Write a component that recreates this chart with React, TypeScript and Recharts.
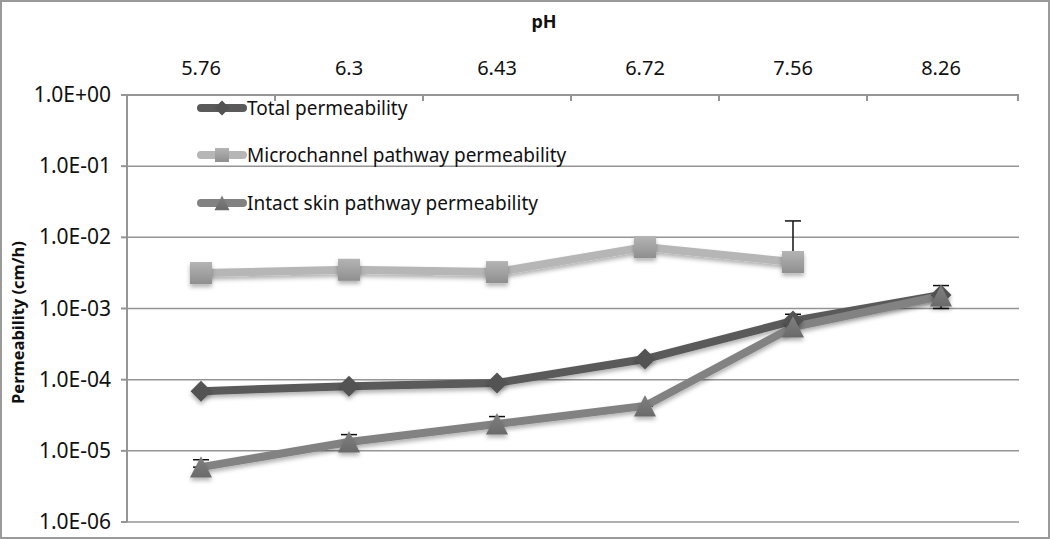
import { LineChart, Line, XAxis, YAxis, CartesianGrid, Legend, ErrorBar } from "recharts";

const phLabels = ["5.76", "6.3", "6.43", "6.72", "7.56", "8.26"];
const totalPerm = [6.9e-5, 8.1e-5, 9.0e-5, 1.95e-4, 6.7e-4, 1.55e-3];
const microPerm = [3.15e-3, 3.5e-3, 3.25e-3, 7.3e-3, 4.5e-3, null];
const intactPerm = [5.9e-6, 1.33e-5, 2.38e-5, 4.27e-5, 5.5e-4, 1.5e-3];
const totalErr = [[0, 0], [0, 0], [0, 0], [0, 0], [0, 1.6e-4], [0, 0]];
const microErr = [[0, 0], [0, 0], [0, 0], [0, 0], [0, 0.0125], null];
const intactErr = [[0, 1.6e-6], [0, 3.6e-6], [0, 6.5e-6], [0, 0], [0, 0], [5e-4, 6e-4]];
const yTicks = [1, 0.1, 0.01, 0.001, 1e-4, 1e-5, 1e-6];

const seriesNames = ["Total permeability", "Microchannel pathway permeability", "Intact skin pathway permeability"];

const data = phLabels.map((ph, i) => ({
  ph,
  total: totalPerm[i],
  micro: microPerm[i],
  intact: intactPerm[i],
  totalErr: totalErr[i],
  microErr: microErr[i],
  intactErr: intactErr[i],
}));

const AXIS_Y = 95;
const BAND = 148;
const GRID = "#959595";

const fmtExp = (v: number) => {
  const e = Math.round(Math.log10(v));
  return `1.0E${e < 0 ? "-" : "+"}${String(Math.abs(e)).padStart(2, "0")}`;
};

const Diamond = ({ cx, cy, r }: any) => (
  <path d={`M${cx},${cy - r}L${cx + r},${cy}L${cx},${cy + r}L${cx - r},${cy}Z`} fill="#535353" />
);
const Square = ({ cx, cy, r }: any) => (
  <rect x={cx - r} y={cy - r} width={r * 2} height={r * 2} fill="url(#sqGrad)" />
);
const Triangle = ({ cx, cy, r }: any) => (
  <path d={`M${cx},${cy - r}L${cx + r},${cy + r * 0.95}L${cx - r},${cy + r * 0.95}Z`} fill="url(#triGrad)" />
);

const markers = [Diamond, Square, Triangle];
const lineColors = ["#5a5a5a", "#b6b6b6", "#828282"];

const makeDot = (Shape: any, r: number) => (props: any) => {
  const { cx, cy, index } = props;
  if (cx == null || cy == null || isNaN(cy)) return <g key={`d${index}`} />;
  return (
    <g key={`d${index}`} filter="url(#shadow)">
      <Shape cx={cx} cy={cy} r={r} />
    </g>
  );
};

const TopTick = (props: any) => {
  const { x, y, payload, index, visibleTicksCount } = props;
  return (
    <g>
      <text x={x} y={y} textAnchor="middle" fontSize={20} fill="#111">
        {payload.value}
      </text>
      <line x1={x - BAND / 2} x2={x - BAND / 2} y1={AXIS_Y} y2={AXIS_Y + 6} stroke={GRID} strokeWidth={2} />
      {index === visibleTicksCount - 1 && (
        <line x1={x + BAND / 2 + 3} x2={x + BAND / 2 + 3} y1={AXIS_Y} y2={AXIS_Y + 6} stroke={GRID} strokeWidth={2} />
      )}
    </g>
  );
};

const LeftTick = (props: any) => {
  const { x, y, payload } = props;
  return (
    <text x={x} y={y} dy={7} textAnchor="end" fontSize={21} fill="#111">
      {fmtExp(payload.value)}
    </text>
  );
};

const renderLegend = () => (
  <div>
    {seriesNames.map((name, i) => {
      const Shape = markers[i];
      return (
        <div key={name} style={{ display: "flex", alignItems: "center", height: 47.5 }}>
          <svg width={54} height={24} style={{ display: "block" }}>
            <line x1={6} x2={48} y1={12} y2={12} stroke={lineColors[i]} strokeWidth={8} strokeLinecap="round" />
            <Shape cx={27} cy={12} r={i === 1 ? 7 : 7.5} />
          </svg>
          <span style={{ fontSize: 19, color: "#111", marginLeft: -2 }}>{name}</span>
        </div>
      );
    })}
  </div>
);

export default function App() {
  return (
    <div
      style={{
        position: "absolute",
        left: 0,
        top: 0,
        width: 1050,
        height: 539,
        background: "#fff",
        fontFamily: "'Noto Sans', sans-serif",
      }}
    >
      <LineChart width={1050} height={539} data={data} margin={{ top: 0, right: 31, bottom: 17, left: 0 }}>
        <defs>
          <linearGradient id="sqGrad" x1="0" y1="0" x2="0" y2="1">
            <stop offset="0%" stopColor="#b4b4b4" />
            <stop offset="100%" stopColor="#8f8f8f" />
          </linearGradient>
          <linearGradient id="triGrad" x1="0" y1="0" x2="0" y2="1">
            <stop offset="0%" stopColor="#808080" />
            <stop offset="100%" stopColor="#6a6a6a" />
          </linearGradient>
          <filter id="shadow" x="-30%" y="-30%" width="160%" height="180%">
            <feDropShadow dx="0" dy="3" stdDeviation="2" floodColor="#000" floodOpacity="0.3" />
          </filter>
        </defs>
        <CartesianGrid vertical={false} stroke={GRID} strokeWidth={1.5} />
        <XAxis
          dataKey="ph"
          orientation="top"
          height={95}
          padding={{ left: 74, right: 78 }}
          axisLine={{ stroke: GRID, strokeWidth: 2 }}
          tickLine={false}
          tickSize={0}
          tickMargin={20}
          tick={<TopTick />}
          label={{ value: "pH", position: "insideTop", offset: 15, dx: -29, fontSize: 18, fontWeight: "bold", fill: "#111" }}
        />
        <YAxis
          type="number"
          scale="log"
          domain={[1e-6, 1]}
          ticks={yTicks}
          allowDataOverflow
          width={127}
          axisLine={{ stroke: GRID, strokeWidth: 2 }}
          tickLine={{ stroke: GRID, strokeWidth: 2 }}
          tickSize={6}
          tickMargin={10}
          tick={<LeftTick />}
          label={{
            value: "Permeability (cm/h)",
            angle: -90,
            position: "insideLeft",
            offset: 18,
            dy: 14,
            fontSize: 16.5,
            fontWeight: "bold",
            fill: "#111",
            style: { textAnchor: "middle" },
          }}
        />
        <Legend
          layout="vertical"
          align="center"
          verticalAlign="middle"
          content={renderLegend}
          wrapperStyle={{ left: 195, top: 84, width: 500 }}
        />
        <Line
          dataKey="total"
          name={seriesNames[0]}
          stroke={lineColors[0]}
          strokeWidth={8}
          dot={makeDot(Diamond, 10.5)}
          activeDot={false}
          filter="url(#shadow)"
          isAnimationActive={false}
        >
          <ErrorBar dataKey="totalErr" width={8} stroke="#111" strokeWidth={1.5} />
        </Line>
        <Line
          dataKey="micro"
          name={seriesNames[1]}
          stroke={lineColors[1]}
          strokeWidth={8}
          dot={makeDot(Square, 11)}
          activeDot={false}
          filter="url(#shadow)"
          isAnimationActive={false}
        >
          <ErrorBar dataKey="microErr" width={8} stroke="#111" strokeWidth={1.5} />
        </Line>
        <Line
          dataKey="intact"
          name={seriesNames[2]}
          stroke={lineColors[2]}
          strokeWidth={8}
          dot={makeDot(Triangle, 11)}
          activeDot={false}
          filter="url(#shadow)"
          isAnimationActive={false}
        >
          <ErrorBar dataKey="intactErr" width={8} stroke="#111" strokeWidth={1.5} />
        </Line>
      </LineChart>
      <div
        style={{
          position: "absolute",
          inset: 0,
          border: "2px solid #9a9a9a",
          pointerEvents: "none",
        }}
      />
    </div>
  );
}
